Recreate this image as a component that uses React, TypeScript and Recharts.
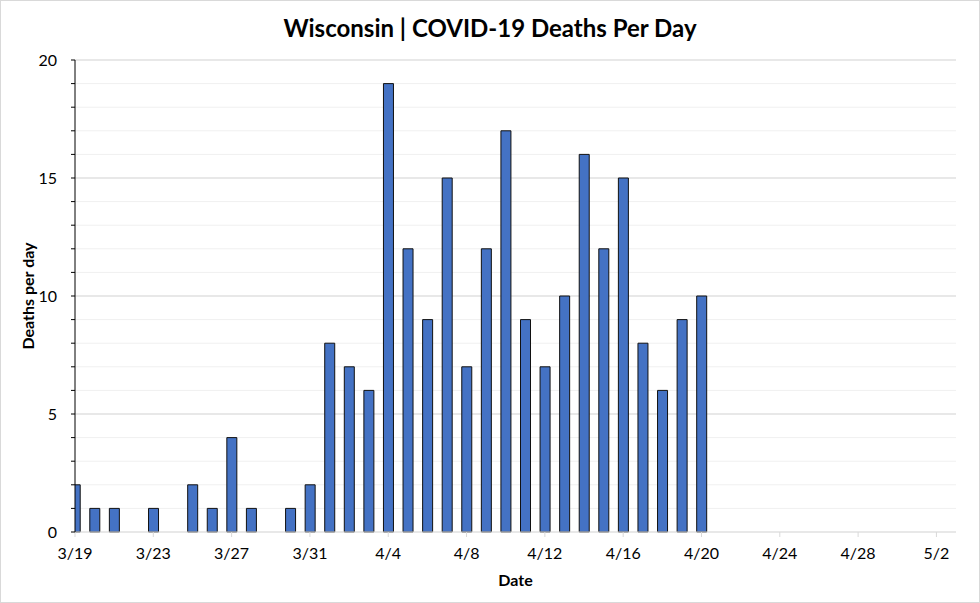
import { Bar, BarChart, CartesianGrid, Label, XAxis, YAxis } from 'recharts'

const dates = [
  '3/19', '3/20', '3/21', '3/22', '3/23', '3/24', '3/25', '3/26', '3/27', '3/28', '3/29',
  '3/30', '3/31', '4/1', '4/2', '4/3', '4/4', '4/5', '4/6', '4/7', '4/8', '4/9', '4/10',
  '4/11', '4/12', '4/13', '4/14', '4/15', '4/16', '4/17', '4/18', '4/19', '4/20',
]
const deaths = [
  2, 1, 1, 0, 1, 0, 2, 1, 4, 1, 0,
  1, 2, 8, 7, 6, 19, 12, 9, 15, 7, 12, 17,
  9, 7, 10, 16, 12, 15, 8, 6, 9, 10,
]
const tickLabels = ['3/19', '3/23', '3/27', '3/31', '4/4', '4/8', '4/12', '4/16', '4/20', '4/24', '4/28', '5/2']
const tickDays = [0, 4, 8, 12, 16, 20, 24, 28, 32, 36, 40, 44]
const yTicks = [0, 1, 2, 3, 4, 5, 6, 7, 8, 9, 10, 11, 12, 13, 14, 15, 16, 17, 18, 19, 20]
const yMajor = [5, 10, 15, 20]
const yMax = 20

const data = dates.map((d, i) => ({ day: i, date: d, deaths: deaths[i] }))

const font = 'Lato, "DejaVu Sans", sans-serif'

// major gridlines every 5, drawn in the grid layer so they stay behind the bars
const majorLines = ({ yAxis, offset }: any) => {
  if (yAxis && typeof yAxis.scale === 'function') return yMajor.map((v) => yAxis.scale(v))
  return yMajor.map((v) => offset.top + offset.height * (1 - v / yMax))
}

export default function App() {
  return (
    <div
      style={{
        position: 'absolute', left: 0, top: 0, width: 980, height: 603,
        boxSizing: 'border-box', border: '1px solid #d9d9d9', background: '#fff', fontFamily: font,
      }}
    >
      <div
        style={{
          position: 'absolute', left: 0, right: 0, top: 12, textAlign: 'center',
          fontSize: 24, fontWeight: 700, color: '#000',
        }}
      >
        Wisconsin | COVID-19 Deaths Per Day
      </div>
      <div style={{ position: 'absolute', left: -1, top: -1 }}>
        <BarChart width={980} height={603} data={data} margin={{ top: 60, right: 24, bottom: 41, left: 35 }}>
          <CartesianGrid vertical={false} stroke="#f0f0f0" />
          <CartesianGrid vertical={false} stroke="#d9d9d9" horizontalCoordinatesGenerator={majorLines} />
          <XAxis
            dataKey="day"
            type="number"
            domain={[0, 45]}
            ticks={tickDays}
            allowDataOverflow
            tickFormatter={(v: number) => tickLabels[tickDays.indexOf(v)] ?? ''}
            height={30}
            stroke="#d9d9d9"
            tickSize={5}
            tickMargin={11}
            tick={{ fill: '#000', fontSize: 16, fontFamily: font }}
          >
            <Label value="Date" position="insideBottom" offset={-24} style={{ fontWeight: 700, fontSize: 16, fill: '#000', fontFamily: font }} />
          </XAxis>
          <YAxis
            type="number"
            domain={[0, yMax]}
            ticks={yTicks}
            interval={0}
            tickFormatter={(v: number) => (v % 5 === 0 ? String(v) : '')}
            width={40}
            stroke="#000"
            tickSize={4}
            tickMargin={14}
            tick={{ fill: '#000', fontSize: 16, fontFamily: font }}
          >
            <Label value="Deaths per day" angle={-90} position="insideLeft" offset={-7} style={{ textAnchor: 'middle', fontWeight: 700, fontSize: 16, fill: '#000', fontFamily: font }} />
          </YAxis>
          <Bar dataKey="deaths" barSize={10} fill="#4472C4" stroke="#111" strokeWidth={1} isAnimationActive={false} />
        </BarChart>
      </div>
    </div>
  )
}
